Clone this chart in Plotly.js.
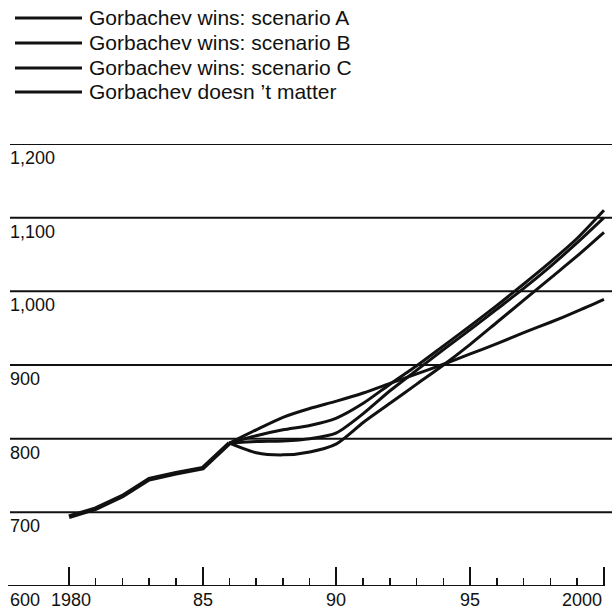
<!DOCTYPE html>
<html>
<head>
<meta charset="utf-8">
<script src="https://cdn.plot.ly/plotly-3.0.1.min.js"></script>
<style>html,body{margin:0;padding:0;background:#fff;}#chart{width:616px;height:612px;}</style>
</head>
<body>
<div id="chart"></div>
<script>
// ---- data ----
const historyYears = [1980, 1981, 1982, 1983, 1984, 1985, 1986];
const historyValues = [694, 705, 722, 745, 753, 760, 794];

const scenarioYears = [1986, 1987, 1988, 1989, 1990, 1991, 1992, 1993, 1994, 1995, 1996, 1997, 1998, 1999, 2000];
const scenarioA = [794, 804, 812, 818, 828, 848, 874, 899, 926, 953, 981, 1010, 1040, 1072, 1110];
const scenarioB = [794, 796, 797, 800, 808, 834, 865, 893, 921, 948, 976, 1004, 1034, 1066, 1100];
const scenarioC = [794, 781, 778, 782, 793, 822, 848, 874, 900, 928, 958, 988, 1018, 1048, 1080];
const doesntMatter = [794, 812, 829, 841, 851, 862, 875, 888, 901, 915, 929, 944, 958, 973, 989];

const legendLabels = ["Gorbachev wins: scenario A", "Gorbachev wins: scenario B", "Gorbachev wins: scenario C", "Gorbachev doesn \u2019t matter"];

const yTickValues = [600, 700, 800, 900, 1000, 1100, 1200];
const yTickLabels = ["600", "700", "800", "900", "1,000", "1,100", "1,200"];
const xMajorTicks = [1980, 1985, 1990, 1995, 2000];
const xTickLabels = ["1980", "85", "90", "95", "2000"];
const xMinorTicks = [1981, 1982, 1983, 1984, 1986, 1987, 1988, 1989, 1991, 1992, 1993, 1994, 1996, 1997, 1998, 1999];

// ---- layout helpers ----
const W = 616, H = 612;
const M = {l: 8, r: 4, t: 144, b: 26};
const xRange = [1977.72, 2000.3];
const yRange = [600, 1200];
const pw = W - M.l - M.r, ph = H - M.t - M.b;
const px2paperX = p => (p - M.l) / pw;
const px2paperY = p => (H - M.b - p) / ph;

const FONT = "'Liberation Sans', Arial, sans-serif";
const BLACK = "#111111";

const scenarioSeries = [scenarioA, scenarioB, scenarioC, doesntMatter];

const traces = [];
scenarioSeries.forEach((vals, i) => {
  traces.push({
    x: scenarioYears, y: vals, type: "scatter", mode: "lines",
    name: legendLabels[i],
    line: {color: BLACK, width: 3, shape: "spline", smoothing: 0.7},
    hoverinfo: "x+y+name"
  });
});
traces.push({
  x: historyYears, y: historyValues, type: "scatter", mode: "lines",
  name: "history", line: {color: BLACK, width: 4.5}, hoverinfo: "x+y"
});

const shapes = [];
const annotations = [];

// horizontal rules at each labelled value above the baseline
yTickValues.filter(v => v > 600).forEach(v => {
  shapes.push({type: "line", xref: "paper", yref: "y", x0: px2paperX(10), x1: 1, y0: v, y1: v,
    layer: "below", line: {color: BLACK, width: 2}});
});

// x axis baseline (ends at 2000)
shapes.push({type: "line", xref: "x", yref: "y", x0: xRange[0], x1: 2000, y0: 600, y1: 600,
  line: {color: BLACK, width: 2}});

// legend
const legendRowsPx = [18, 43, 68, 92];
legendLabels.forEach((lab, i) => {
  const py = legendRowsPx[i];
  shapes.push({type: "line", xref: "paper", yref: "paper",
    x0: px2paperX(15), x1: px2paperX(82), y0: px2paperY(py), y1: px2paperY(py),
    line: {color: BLACK, width: 3}});
  annotations.push({xref: "paper", yref: "paper", x: px2paperX(88), y: px2paperY(py),
    xanchor: "left", yanchor: "middle", text: lab, showarrow: false,
    borderpad: 0,
    font: {family: FONT, size: 21, color: BLACK}});
});

// y labels (under each rule, left aligned)
yTickValues.forEach((v, i) => {
  annotations.push({xref: "paper", yref: "y", x: px2paperX(8), y: v, yshift: -14,
    xanchor: "left", yanchor: "middle", text: yTickLabels[i], showarrow: false,
    font: {family: FONT, size: 18, color: BLACK}});
});

// x labels
xMajorTicks.forEach((v, i) => {
  const last = i === xMajorTicks.length - 1;
  annotations.push({xref: "x", yref: "y", x: v, y: 600, yshift: -14,
    xanchor: last ? "right" : "center", xshift: i === 0 ? 2 : 0, yanchor: "middle",
    text: xTickLabels[i], showarrow: false,
    font: {family: FONT, size: 18, color: BLACK}});
});

const layout = {
  width: W, height: H, margin: M,
  paper_bgcolor: "#ffffff", plot_bgcolor: "#ffffff",
  showlegend: false,
  xaxis: {
    range: xRange, showgrid: false, zeroline: false, showline: false,
    tickmode: "array", tickvals: xMajorTicks, showticklabels: false,
    ticks: "inside", ticklen: 19, tickwidth: 2, tickcolor: BLACK,
    minor: {tickmode: "array", tickvals: xMinorTicks, ticks: "inside", ticklen: 8, tickwidth: 1.5, tickcolor: BLACK, showgrid: false}
  },
  yaxis: {
    range: yRange, zeroline: false, showline: false, showticklabels: false, ticks: "",
    showgrid: false
  },
  shapes: shapes,
  annotations: annotations
};

Plotly.newPlot("chart", traces, layout, {displayModeBar: false, staticPlot: true});
</script>
</body>
</html>
